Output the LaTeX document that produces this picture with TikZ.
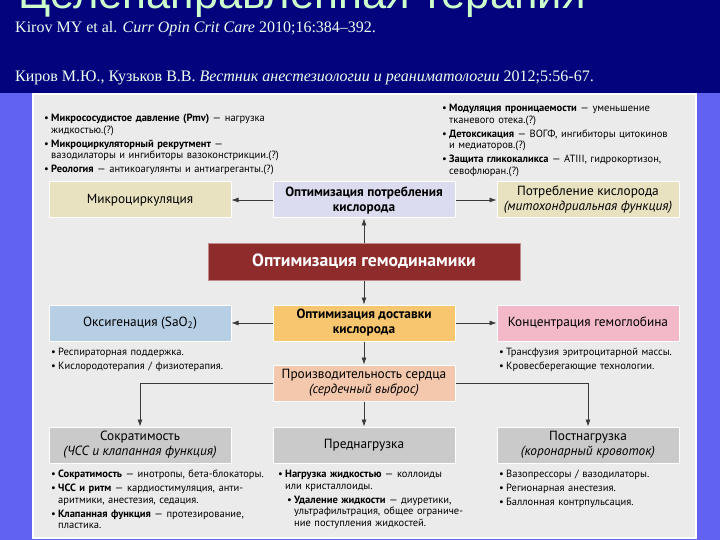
\documentclass[tikz,border=0pt]{standalone}
\usepackage{fontspec}
\setmainfont{PT Sans}
\newfontfamily\titlefont{Liberation Sans}
\newfontfamily\citefont{Liberation Serif}
\usetikzlibrary{arrows.meta,positioning}

\definecolor{navy}{HTML}{03037D}
\definecolor{sideblue}{HTML}{6161F2}
\definecolor{panelgray}{HTML}{EBEBEB}
\definecolor{titlegreen}{HTML}{CCFFCC}
\definecolor{citewhite}{HTML}{F0FFF0}
\definecolor{beige}{HTML}{E9E2C1}
\definecolor{lavender}{HTML}{DCDCF0}
\definecolor{hemored}{HTML}{8E2C2C}
\definecolor{orangebox}{HTML}{F8C66E}
\definecolor{skyblue}{HTML}{B6CFE4}
\definecolor{pinkbox}{HTML}{F3B9C9}
\definecolor{peach}{HTML}{F3C8AC}
\definecolor{graybox}{HTML}{CACACA}
\definecolor{arrowgray}{HTML}{3A3A3A}

\newcommand{\boxfont}{\fontsize{13.3}{15}\selectfont}
\newcommand{\listfont}{\fontsize{10.5}{11.5}\selectfont\setlength{\parskip}{2.5pt}\setlength{\parindent}{0pt}}
% first item of a list, then the following ones
\newcommand{\itmstart}[1][0pt]{\noindent\hangindent=\dimexpr#1+7pt\relax\hangafter=1\hspace*{#1}\makebox[7pt][l]{\textbullet}}
\newcommand{\itm}[1][0pt]{\par\itmstart[#1]}

\begin{document}
\begin{tikzpicture}[
    x=1pt,y=-1pt,
    box/.style={draw=white,line width=1pt,minimum width=182pt,minimum height=36pt,inner sep=1pt,align=center,font=\boxfont},
    boldbox/.style={box,font=\boxfont\bfseries},
    hemobox/.style={fill=hemored,draw=hemored!55!white,line width=1pt,minimum width=312pt,minimum height=37pt,text=white,font=\fontsize{17.7}{19}\selectfont\bfseries},
    lst/.style={anchor=north west,inner sep=0pt,text width=#1,align=left,font=\listfont},
    arr/.style={draw=arrowgray,line width=0.6pt,-{Latex[length=7pt,width=5pt]}},
    >=Latex
  ]
    % slide background
    \clip (0,0) rectangle (720,540);
    \fill[sideblue] (0,93) rectangle (720,540);
    \fill[navy] (0,0) rectangle (720,93);
    \draw[white,line width=1.5pt,fill=panelgray] (33,94) rectangle (696,538);

    \node[anchor=base west,inner sep=0pt,text=titlegreen,font=\titlefont\fontsize{43.5}{44}\selectfont] (title) at (18,9) {Целенаправленная терапия};
    \node[anchor=base west,inner sep=0pt,text=citewhite,font=\citefont\fontsize{16}{18}\selectfont] (cite1) at (15,33) {Kirov MY et al. \textit{Curr Opin Crit Care} 2010;16:384–392.};
    \node[anchor=base west,inner sep=0pt,text=citewhite,font=\citefont\fontsize{16}{18}\selectfont] (cite2) at (15,82) {Киров М.Ю., Кузьков В.В. \textit{Вестник анестезиологии и реаниматологии} 2012;5:56-67.};

    % boxes
    \node[hemobox] (hemo) at (364,261.5) {Оптимизация гемодинамики};
    \node[boldbox,fill=lavender,above=24pt of hemo] (optuse) {Оптимизация потребления\\кислорода};
    \node[box,fill=beige,left=41pt of optuse] (micro) {Микроциркуляция};
    \node[box,fill=beige,right=41pt of optuse] (mito) {Потребление кислорода\\\textit{(митохондриальная функция)}};
    \node[boldbox,fill=orangebox,below=24pt of hemo] (optdel) {Оптимизация доставки\\кислорода};
    \node[box,fill=skyblue,left=41pt of optdel] (oxy) {Оксигенация (SaO\textsubscript{2})};
    \node[box,fill=pinkbox,right=41pt of optdel] (hb) {Концентрация гемоглобина};
    \node[box,fill=peach,below=23pt of optdel] (heart) {Производительность сердца\\\textit{(сердечный выброс)}};
    \node[box,fill=graybox,below=25pt of heart] (preload) {Преднагрузка};
    \node[box,fill=graybox,left=41pt of preload] (contr) {Сократимость\\\textit{(ЧСС и клапанная функция)}};
    \node[box,fill=graybox,right=41pt of preload] (afterload) {Постнагрузка\\\textit{(коронарный кровоток)}};

    % lists
    \node[lst=270pt] (microlist) at (44,114) {\itmstart\textbf{Микрососудистое давление (Pmv)} — нагрузка\newline жидкостью.(?)\itm\textbf{Микроциркуляторный рекрутмент} —\newline вазодилаторы и ингибиторы вазоконстрикции.(?)\itm\textbf{Реология} — антикоагулянты и антиагреганты.(?)\par};
    \node[lst=250pt] (mitolist) at (442,104) {\itmstart\textbf{Модуляция проницаемости} — уменьшение\newline тканевого отека.(?)\itm\textbf{Детоксикация} — ВОГФ, ингибиторы цитокинов\newline и медиаторов.(?)\itm\textbf{Защита гликокаликса} — ATIII, гидрокортизон,\newline севофлюран.(?)\par};
    \node[lst=210pt] (oxylist) at (51,348) {\itmstart Респираторная поддержка.\itm Кислородотерапия / физиотерапия.\par};
    \node[lst=200pt] (hblist) at (499,348) {\itmstart Трансфузия эритроцитарной массы.\itm Кровесберегающие технологии.\par};
    \node[lst=225pt] (contrlist) at (51,470) {\itmstart\textbf{Сократимость} — инотропы, бета-блокаторы.\itm\textbf{ЧСС и ритм} — кардиостимуляция, анти-\newline аритмики, анестезия, седация.\itm\textbf{Клапанная функция} — протезирование,\newline пластика.\par};
    \node[lst=215pt] (prelist) at (278,470) {\itmstart\textbf{Нагрузка жидкостью} — коллоиды\newline или кристаллоиды.\itm[9pt]\textbf{Удаление жидкости} — диуретики,\newline ультрафильтрация, общее ограниче-\newline ние поступления жидкостей.\par};
    \node[lst=200pt] (afterlist) at (499,470) {\itmstart Вазопрессоры / вазодилаторы.\itm Регионарная анестезия.\itm Баллонная контрпульсация.\par};

    % connectors
    \draw[arr] (optuse) -- (micro);
    \draw[arr] (optuse) -- (mito);
    \draw[arr] (hemo) -- (optuse);
    \draw[arr] (hemo) -- (optdel);
    \draw[arr] (optdel) -- (oxy);
    \draw[arr] (optdel) -- (hb);
    \draw[arr] (optdel) -- (heart);
    \draw[arr] (heart) -- (preload);
    \draw[arr] (heart.west) -| (contr.north);
    \draw[arr] (heart.east) -| (afterload.north);
  \end{tikzpicture}
\end{document}
